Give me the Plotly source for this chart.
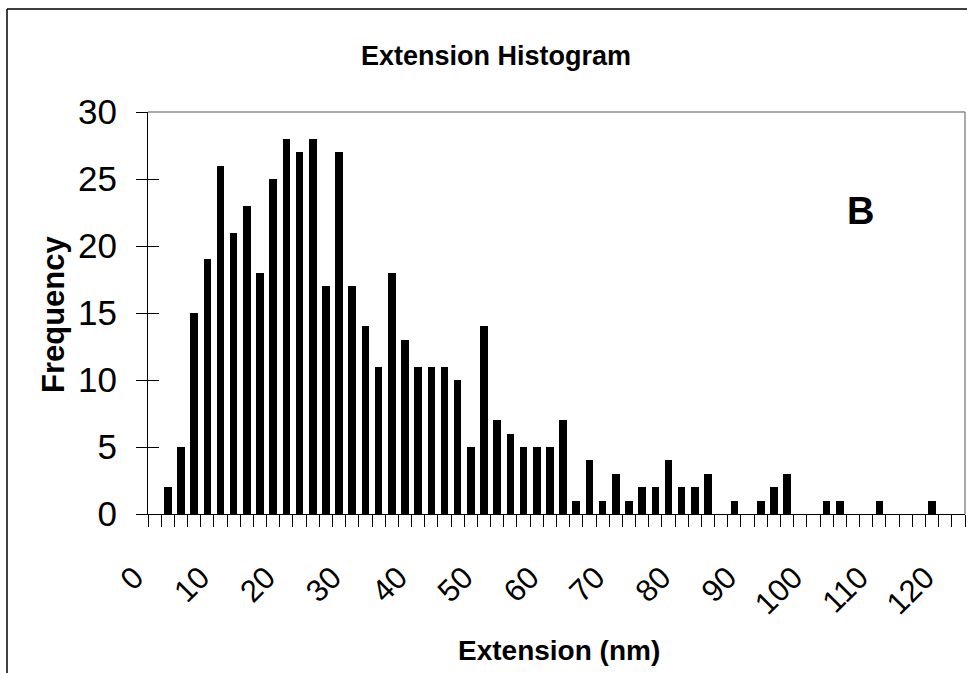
import plotly.graph_objects as go

# Bin starts (nm), 2 nm bins
extension_nm = list(range(0, 124, 2))
frequency = [0, 2, 5, 15, 19, 26, 21, 23, 18, 25,
             28, 27, 28, 17, 27, 17, 14, 11, 18, 13,
             11, 11, 11, 10, 5, 14, 7, 6, 5, 5,
             5, 7, 1, 4, 1, 3, 1, 2, 2, 4,
             2, 2, 3, 0, 1, 0, 1, 2, 3, 0,
             0, 1, 1, 0, 0, 1, 0, 0, 0, 1,
             0, 0]
x_tick_values = list(range(0, 121, 10))
x_tick_labels = [str(v) for v in x_tick_values]
y_tick_values = [0, 5, 10, 15, 20, 25, 30]

W, H = 967, 673
L, R, T, B = 148, 965, 112, 514


def px(x):
    return (x - L) / (R - L)


def py(y):
    return (B - y) / (B - T)


SANS = "Liberation Sans, Arial, sans-serif"

fig = go.Figure()
fig.add_trace(go.Bar(
    x=extension_nm, y=frequency, width=1.15,
    marker=dict(color="black", line=dict(width=0)),
    showlegend=False,
))
# invisible trace for overlay y axis (inside ticks)
fig.add_trace(go.Scatter(x=[0], y=[0], yaxis="y2", mode="markers",
                         marker=dict(opacity=0), showlegend=False, hoverinfo="skip"))

fig.update_layout(
    width=W, height=H,
    margin=dict(l=L, r=W - R, t=T, b=H - B, pad=0),
    paper_bgcolor="white", plot_bgcolor="white",
    bargap=0,
    xaxis=dict(
        range=[-1, 123], showgrid=False, zeroline=False,
        showline=True, linecolor="black", linewidth=1,
        tickmode="array", tickvals=x_tick_values, ticktext=x_tick_labels,
        ticks="outside", ticklen=12, tickcolor="rgba(0,0,0,0)",
        tickangle=-45,
        ticklabelstandoff=20, ticklabelshift=-20,
        tickfont=dict(family=SANS, size=31, color="black"),
        minor=dict(ticks="outside", tick0=-1, dtick=2, ticklen=12,
                   tickcolor="black", tickwidth=1, showgrid=False),
    ),
    yaxis=dict(
        range=[0, 30], showgrid=False, zeroline=False,
        showline=True, linecolor="black", linewidth=1,
        tickmode="array", tickvals=y_tick_values,
        ticks="outside", ticklen=11, tickcolor="black", tickwidth=1,
        ticklabelstandoff=12,
        tickfont=dict(family=SANS, size=35, color="black"),
    ),
    yaxis2=dict(
        range=[0, 30], overlaying="y", side="left", anchor="x",
        showgrid=False, zeroline=False, showline=False,
        tickmode="array", tickvals=y_tick_values, showticklabels=False,
        ticks="inside", ticklen=11, tickcolor="black", tickwidth=1,
    ),
    shapes=[
        # plot area border (top, right) in gray
        dict(type="line", xref="paper", yref="paper", x0=0, x1=1, y0=1, y1=1,
             line=dict(color="#8c8c8c", width=1.5)),
        dict(type="line", xref="paper", yref="paper", x0=1, x1=1, y0=0, y1=1,
             line=dict(color="#8c8c8c", width=1.5)),
        # chart area border (top, left)
        dict(type="line", xref="paper", yref="paper", x0=px(7), x1=px(967), y0=py(9), y1=py(9),
             line=dict(color="black", width=1.5)),
        dict(type="line", xref="paper", yref="paper", x0=px(7), x1=px(7), y0=py(9), y1=py(673),
             line=dict(color="black", width=1.5)),
    ],
    annotations=[
        dict(text="<b>Extension Histogram</b>", xref="paper", yref="paper",
             x=px(496), y=py(56), xanchor="center", yanchor="middle", showarrow=False,
             font=dict(family=SANS, size=27, color="black")),
        dict(text="<b>Frequency</b>", xref="paper", yref="paper",
             x=px(53), y=py(314), xanchor="center", yanchor="middle", showarrow=False,
             textangle=-90, font=dict(family=SANS, size=31, color="black")),
        dict(text="<b>B</b>", xref="paper", yref="paper",
             x=px(860), y=py(211), xanchor="center", yanchor="middle", showarrow=False,
             font=dict(family=SANS, size=38, color="black")),
        dict(text="<b>Extension (nm)</b>", xref="paper", yref="paper",
             x=px(559), y=py(650), xanchor="center", yanchor="middle", showarrow=False,
             font=dict(family=SANS, size=28, color="black")),
    ],
)

fig.write_html("out.html")
